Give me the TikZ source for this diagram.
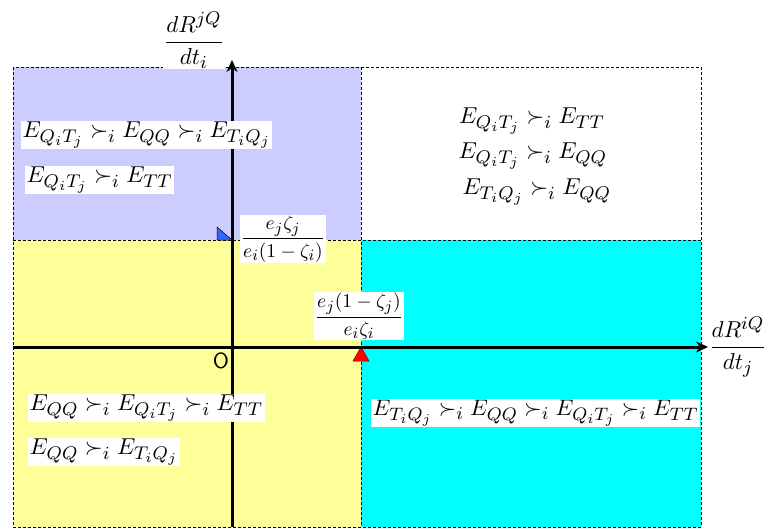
\documentclass[tikz,border=0pt]{standalone}
\usepackage{amsmath,amssymb}
\usetikzlibrary{arrows.meta}
\DeclareMathSizes{10}{10}{7.8}{6}
\definecolor{lav}{HTML}{CCCCFF}
\definecolor{yel}{HTML}{FFFF99}
\definecolor{cyn}{HTML}{00FFFF}
\definecolor{trblue}{HTML}{3366FF}
\newcommand{\sbx}[1]{\scalebox{2.3}{$#1$}}
\newcommand{\sfr}[1]{\scalebox{1.95}{$#1$}}
\begin{document}
\begin{tikzpicture}[x=1pt,y=-1pt,
  region/.style={draw=black, dash pattern=on 3pt off 2pt, line width=0.6pt},
  rel/.style={fill=white, inner sep=1.5pt, anchor=west, font=\fontsize{10}{12}\selectfont},
  plainrel/.style={inner sep=0pt, font=\fontsize{10}{12}\selectfont},
  frac/.style={fill=white, inner sep=1pt, font=\fontsize{10}{12}\selectfont},
  axlab/.style={fill=white, inner sep=1pt, font=\fontsize{10}{12}\selectfont},
  axis/.style={line width=3pt, -{Stealth[length=12pt,width=11pt]}}]
\useasboundingbox (0,0) rectangle (770,529);
% regions
\fill[lav] (13,67) rectangle (361,240);
\fill[yel] (13,240) rectangle (361,527);
\fill[cyn] (361,240) rectangle (701,527);
\draw[region] (13,67) rectangle (701,527);
\draw[region] (361,67) -- (361,527);
\draw[region] (13,240) -- (701,240);
% markers
\filldraw[fill=trblue, draw=black, line width=0.5pt] (217,227) -- (217,240) -- (232,240) -- cycle;
\filldraw[fill=red, draw=red!50!black, line width=0.5pt] (361,347) -- (369,361) -- (353,361) -- cycle;
% axes
\coordinate (xs) at (13,347);
\coordinate (xe) at (708,347);
\coordinate (ys) at (232,527);
\coordinate (ye) at (232,60);
\draw[axis] (xs) -- (xe);
\draw[axis] (ys) -- (ye);
\node[inner sep=0pt, font=\fontsize{10}{12}\selectfont] (o) at (221,361) {\scalebox{2.2}{\sffamily O}};
% axis labels
\node[axlab] (ylab) at (194,40) {\sbx{\dfrac{dR^{jQ}}{dt_i}}};
\node[axlab] (xlab) at (738,347) {\sbx{\dfrac{dR^{iQ}}{dt_j}}};
% fractions
\node[frac] (f1) at (283,239) {\sfr{\dfrac{e_j\zeta_j}{e_i(1-\zeta_i)}}};
\node[frac] (f2) at (359,316) {\sfr{\dfrac{e_j(1-\zeta_j)}{e_i\zeta_i}}};
% relations
\node[rel] (tl1) at (21,135) {\sbx{E_{Q_iT_j} \succ_i E_{QQ} \succ_i E_{T_iQ_j}}};
\node[rel] (tl2) at (25,180) {\sbx{E_{Q_iT_j} \succ_i E_{TT}}};
\node[plainrel] (tr1) at (532,121) {\sbx{E_{Q_iT_j} \succ_i E_{TT}}};
\node[plainrel] (tr2) at (533,156) {\sbx{E_{Q_iT_j} \succ_i E_{QQ}}};
\node[plainrel] (tr3) at (537,192) {\sbx{E_{T_iQ_j} \succ_i E_{QQ}}};
\node[rel] (bl1) at (28,408) {\sbx{E_{QQ} \succ_i E_{Q_iT_j} \succ_i E_{TT}}};
\node[rel] (bl2) at (28,452) {\sbx{E_{QQ} \succ_i E_{T_iQ_j}}};
\node[rel] (br1) at (371,413) {\scalebox{2.25}{$E_{T_iQ_j} \succ_i E_{QQ} \succ_i E_{Q_iT_j} \succ_i E_{TT}$}};
\end{tikzpicture}
\end{document}
